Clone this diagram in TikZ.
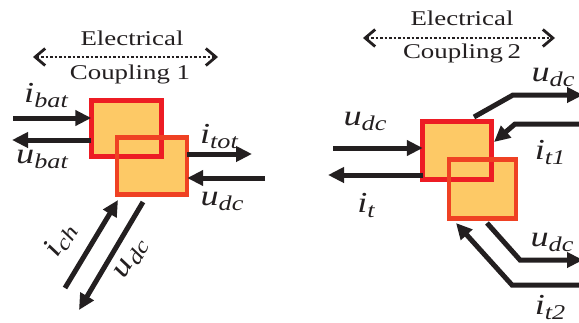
\documentclass[tikz,border=0pt]{standalone}
\usepackage{fontspec}
\setmainfont{Liberation Serif}
\usetikzlibrary{arrows.meta}
\definecolor{boxfill}{HTML}{FDC966}
\definecolor{redA}{HTML}{ED1C24}
\definecolor{redB}{HTML}{EF4123}
\definecolor{ink}{HTML}{231F20}
\newcommand\ML[2]{\scalebox{1.25}[1]{\fontsize{29}{30}\selectfont\itshape #1\raisebox{-5pt}{\fontsize{21}{22}\selectfont #2}}}
\newcommand\TX[1]{\scalebox{1.28}[1]{\fontsize{21}{22}\selectfont #1}}
\begin{document}
\begin{tikzpicture}[x=1pt,y=-1pt,
  fillbox/.style={rectangle, inner sep=0pt, fill=boxfill},
  borderA/.style={draw=redA, line width=5pt},
  borderB/.style={draw=redB, line width=4.5pt},
  arr/.style={draw=ink, line width=5pt, line join=miter, -{Triangle[length=16pt,width=15pt]}},
  dots/.style={draw=ink, line width=2.5pt, dash pattern=on 2.5pt off 2pt,
     {Straight Barb[length=10pt,width=17pt,line width=2.8pt]}-{Straight Barb[length=10pt,width=17pt,line width=2.8pt]}},
  lab/.style={inner sep=0pt, text=ink},
  txt/.style={inner sep=0pt, text=ink}]
\useasboundingbox (0,0) rectangle (579,322);

% ---------- left: coupling 1 ----------
\node[txt] (e1) at (132,38) {\TX{Electrical}};
\node[txt] (c1) at (130,74) {\TX{Coupling 1}};
\coordinate (d1a) at (33,57);
\coordinate (d1b) at (218,57);
\draw[dots] (d1a) -- (d1b);

\node[fillbox, minimum width=70pt, minimum height=56pt] (L1) at (126.5,128.5) {};
\node[fillbox, minimum width=70pt, minimum height=57pt] (L2) at (152,166) {};
\draw[borderA] (L1.north west) rectangle (L1.south east);
\draw[borderB] (L2.north west) rectangle (L2.south east);

\coordinate (ibat0) at (13,118);
\coordinate (ubat1) at (12,140);
\draw[arr] (ibat0) -- (ibat0 -| L1.west);
\draw[arr] (ubat1 -| L1.west) -- (ubat1);
\coordinate (itot1) at (252,154);
\coordinate (udc0) at (265,178);
\draw[arr] (itot1 -| L2.east) -- (itot1);
\draw[arr] (udc0) -- (udc0 -| L2.east);
\coordinate (ich0) at (65,288);
\coordinate (ich1) at (118,200);
\draw[arr] (ich0) -- (ich1);
\coordinate (ud0) at (143,202);
\coordinate (ud1) at (79,310);
\draw[arr] (ud0) -- (ud1);

\node[lab] (libat) at (46,96) {\ML{i}{bat}};
\node[lab] (lubat) at (42,159) {\ML{u}{bat}};
\node[lab] (litot) at (219,136) {\ML{i}{tot}};
\node[lab] (ludc) at (222,201) {\ML{u}{dc}};
\node[lab, rotate=59] (lich) at (60,240) {\ML{i}{ch}};
\node[lab, rotate=59] (ludc2) at (132,259) {\ML{u}{dc}};

% ---------- right: coupling 2 ----------
\node[txt] (e2) at (462,18) {\TX{Electrical}};
\node[txt] (c2) at (462,53) {\TX{Coupling\,2}};
\coordinate (d2a) at (363,38);
\coordinate (d2b) at (555,38);
\draw[dots] (d2a) -- (d2b);

\node[fillbox, minimum width=68pt, minimum height=58pt] (R1) at (457,150.5) {};
\node[fillbox, minimum width=67pt, minimum height=59pt] (R2) at (482.5,189) {};
\draw[borderA] (R1.north west) rectangle (R1.south east);
\draw[borderB] (R2.north west) rectangle (R2.south east);

\coordinate (rudc0) at (333,148);
\coordinate (rit1) at (328,175);
\draw[arr] (rudc0) -- (rudc0 -| R1.west);
\draw[arr] (rit1 -| R1.west) -- (rit1);

\coordinate (tu0) at (474,117);
\coordinate (tu1) at (513,95);
\coordinate (tu2) at (583,95);
\draw[arr] (tu0) -- (tu1) -- (tu2);
\coordinate (ti0) at (585,124);
\coordinate (ti1) at (515,124);
\coordinate (ti2) at (494,142);
\draw[arr] (ti0) -- (ti1) -- (ti2);
\coordinate (bu0) at (487,223);
\coordinate (bu1) at (520,260);
\coordinate (bu2) at (583,260);
\draw[arr] (bu0) -- (bu1) -- (bu2);
\coordinate (bi0) at (585,285);
\coordinate (bi1) at (512,285);
\coordinate (bi2) at (456,223);
\draw[arr] (bi0) -- (bi1) -- (bi2);

\node[lab] (rludc) at (365,121) {\ML{u}{dc}};
\node[lab] (rlit) at (366,205) {\ML{i}{t}};
\node[lab] (rludct) at (553,77) {\ML{u}{dc}};
\node[lab] (rlit1) at (550,152) {\ML{i}{t1}};
\node[lab] (rludcb) at (552,242) {\ML{u}{dc}};
\node[lab] (rlit2) at (550,307) {\ML{i}{t2}};
\end{tikzpicture}
\end{document}
